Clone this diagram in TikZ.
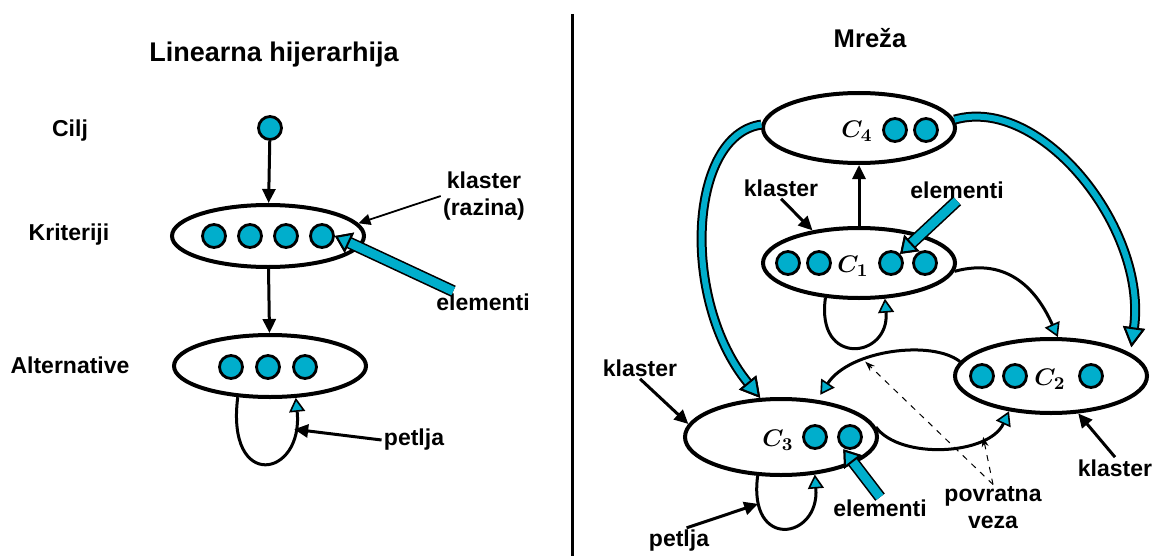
\documentclass[tikz,border=0pt]{standalone}
\usepackage{fontspec}
\setmainfont{Liberation Sans}
\usetikzlibrary{arrows.meta,shapes.geometric}
\definecolor{plava}{RGB}{0,174,204}
\tikzset{
  klaster/.style={ellipse, draw, line width=2pt, minimum width=96pt, minimum height=31pt, inner sep=0pt},
  mklaster/.style={klaster, minimum height=35pt},
  tocka/.style={circle, draw, fill=plava, line width=1.4pt, minimum size=11.5pt, inner sep=0pt},
  oznaka/.style={font=\bfseries\fontsize{11.5}{13.5}\selectfont, inner sep=1pt, align=center},
  naslov/.style={font=\bfseries\fontsize{12.8}{15}\selectfont},
  ime/.style={font=\boldmath\fontsize{13}{15}\selectfont, inner sep=0pt},
  crna/.style={line width=1.5pt, -{Triangle[length=7pt,width=6.5pt]}},
  tanka/.style={line width=0.9pt, -{Triangle[length=6pt,width=5.5pt]}},
  povrat/.style={line width=1.5pt, -{Triangle[length=7pt,width=8pt,color=black,fill=plava,line width=0.8pt]}},
  blok/.style={draw=plava, line width=4.4pt, -{Triangle[length=8pt,width=11pt,color=black,fill=plava,line width=1pt]}, preaction={draw=black, line width=6pt}},
  traka/.style={draw=plava, line width=3pt, -{Triangle[length=10pt,width=11pt,color=black,fill=plava,line width=1pt]}, preaction={draw=black, line width=5pt}},
  isprekidana/.style={line width=0.5pt, dashed, -{Stealth[length=5pt,width=3.5pt]}},
}
\begin{document}
\begin{tikzpicture}[x=0.5pt,y=-0.5pt]
        % --- makro za tocke (elemente) -------------------------------------
        \def\tocka#1#2#3{\node[tocka] (#1) at (#2,#3) {};}
        \useasboundingbox (0,0) rectangle (1155,556);
        % --- linearna hijerarhija -------------------------------------------
        \node[naslov, font=\bfseries\fontsize{13.5}{15}\selectfont] (nas1) at (274,55) {Linearna hijerarhija};
        \node[oznaka] (lcilj) at (70,131) {Cilj};
        \node[oznaka] (lkrit) at (69,235) {Kriteriji};
        \node[oznaka] (lalt)  at (70,365) {Alternative};
        \node[tocka] (cilj) at (270,128) {};
        \node[klaster] (krit) at (268,236) {};
        \node[klaster] (alt)  at (270,366) {};
        \tocka{k1}{214}{236}
        \tocka{k2}{250}{236}
        \tocka{k3}{286}{236}
        \tocka{k4}{322}{236}
        \tocka{a1}{231}{367}
        \tocka{a2}{268}{367}
        \tocka{a3}{305}{367}
        \draw[crna] (cilj) -- (krit);
        \draw[crna] (krit) -- (alt);
        \draw[povrat] (alt.-136) .. controls +(-12,95) and +(8,80) .. coordinate[pos=0.85] (pl1) (alt.-51);
        \node[oznaka] (lklr) at (484,196) {klaster\\(razina)};
        \node[oznaka] (lel1) at (483,302) {elementi};
        \node[oznaka] (lpet1) at (414,440) {petlja};
        \draw[tanka] (lklr.west) -- (krit.8);
        \draw[blok] (lel1.160) -- (k4.east);
        \draw[crna] (lpet1.west) -- (pl1);
        % --- razdjelnik -----------------------------------------------------
        \draw[line width=1.5pt] (572,14) -- (572,556);
        % --- mreza ----------------------------------------------------------
        \node[naslov] (nas2) at (870,38) {Mreža};
        \node[mklaster] (c4) at (859,128) {};
        \node[mklaster] (c1) at (859,263) {};
        \node[mklaster, minimum height=37pt] (c2) at (1051,376) {};
        \node[mklaster, minimum height=38pt] (c3) at (781,437) {};
        \node[ime] (n4) at (857,131) {$C_4$};
        \tocka{d41}{895}{130}
        \tocka{d42}{926}{130}
        \tocka{d11}{788}{263}
        \tocka{d12}{819}{263}
        \node[ime] (n1) at (853,266) {$C_1$};
        \tocka{d13}{891}{263}
        \tocka{d14}{925}{263}
        \tocka{d21}{982}{376}
        \tocka{d22}{1015}{376}
        \node[ime] (n2) at (1050,379) {$C_2$};
        \tocka{d23}{1091}{376}
        \node[ime] (n3) at (778,440) {$C_3$};
        \tocka{d31}{815}{437}
        \tocka{d32}{850}{437}
        % --- veze izmedu klastera -------------------------------------------
        \draw[crna] (c1) -- (c4);
        \draw[povrat] (c1.-134) .. controls +(-10,70) and +(5,60) .. (c1.-54);
        \draw[povrat] (c1.-5) .. controls +(55,-15) and +(-20,-45) .. (c2.80);
        \draw[traka] (c4.178) .. controls +(-73,10) and +(-80,-98) .. (c3.118);
        \draw[traka, shorten >=3pt] (c4.5) .. controls +(87,-25) and +(17,-124) .. (c2.16);
        \draw[povrat, shorten >=3pt] (c2.171) .. controls +(-28,-22) and +(33,-50) .. coordinate[pos=0.65] (pv1) (c3.46);
        \draw[povrat] (c3.6) .. controls +(24,33) and +(-20,44) .. coordinate[pos=0.75] (pv2) (c2.-140);
        \draw[povrat] (c3.-121) .. controls +(-10,75) and +(5,65) .. coordinate[pos=0.15] (pl2) (c3.-48);
        % --- oznake ---------------------------------------------------------
        \node[oznaka] (lkl1) at (781,188) {klaster};
        \node[oznaka] (lel2) at (957,190) {elementi};
        \node[oznaka] (lkl2) at (640,368) {klaster};
        \node[oznaka] (lkl3) at (1115,468) {klaster};
        \node[oznaka] (lel3) at (880,508) {elementi};
        \node[oznaka] (lpet2) at (679,541) {petlja};
        \node[oznaka] (lpov) at (993,508) {povratna\\veza};
        \draw[crna] (lkl1.south) -- (c1.145);
        \draw[blok] (lel2.south) -- (d13.north east);
        \draw[crna] (lkl2.south) -- (c3.172);
        \draw[crna] (lkl3.north) -- (c2.-54);
        \draw[blok, shorten >=2pt] (lel3.north) -- (d32.south west);
        \draw[crna] (lpet2.60) -- (pl2);
        \draw[isprekidana] (lpov.north) -- (pv1);
        \draw[isprekidana] (lpov.north) -- (pv2);
\end{tikzpicture}
\end{document}
